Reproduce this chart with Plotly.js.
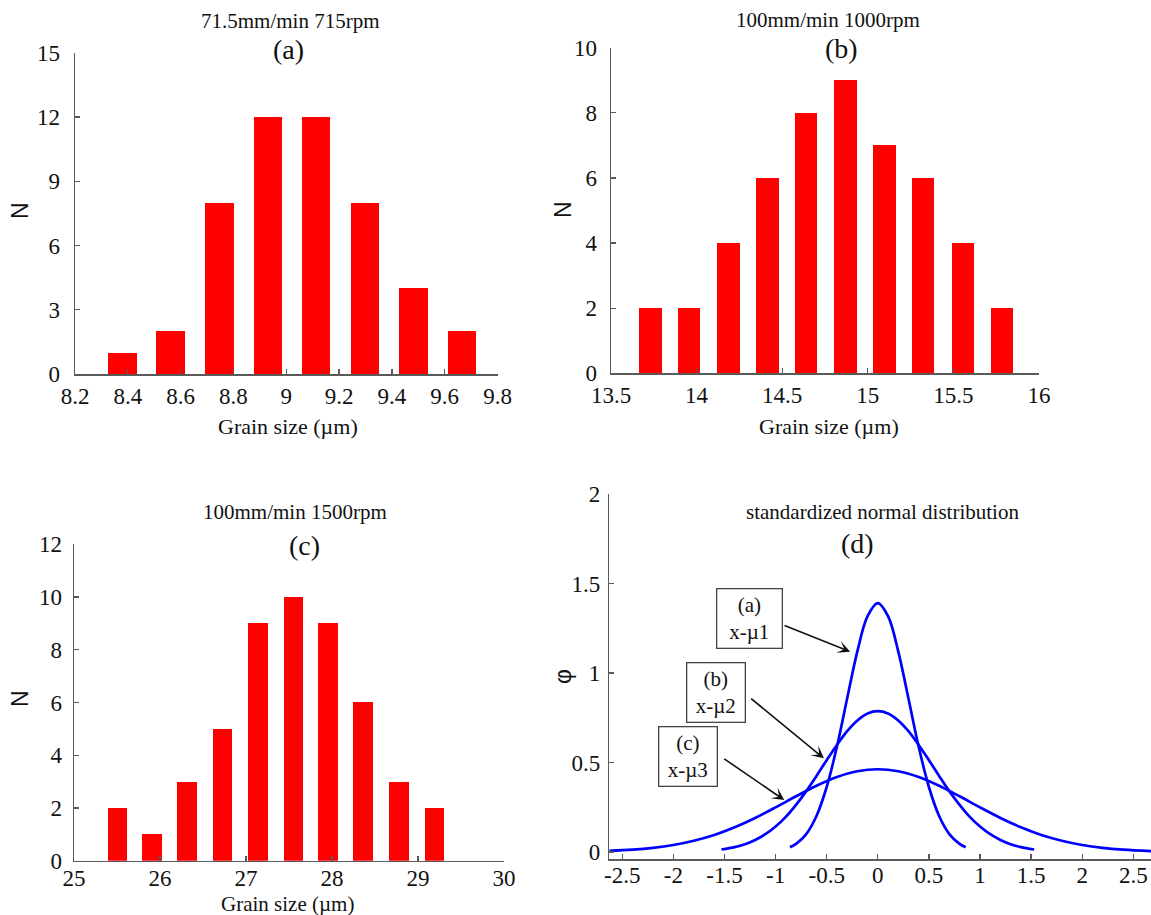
<!DOCTYPE html>
<html>
<head>
<meta charset="utf-8">
<script src="https://cdn.plot.ly/plotly-3.0.1.min.js"></script>
<style>
html,body{margin:0;padding:0;background:#fff;}
#chart{width:1151px;height:915px;}
</style>
</head>
<body>
<div id="chart"></div>
<script>
// ---- Panel (a): 71.5mm/min 715rpm ----
const aGrain = [8.380, 8.562, 8.747, 8.931, 9.114, 9.299, 9.482, 9.666];
const aCount = [1, 2, 8, 12, 12, 8, 4, 2];
const aXTicks = [8.2, 8.4, 8.6, 8.8, 9, 9.2, 9.4, 9.6, 9.8];
const aXText = ['8.2', '8.4', '8.6', '8.8', '9', '9.2', '9.4', '9.6', '9.8'];
const aYTicks = [0, 3, 6, 9, 12, 15];

// ---- Panel (b): 100mm/min 1000rpm ----
const bGrain = [13.731, 13.957, 14.187, 14.414, 14.641, 14.870, 15.097, 15.324, 15.554, 15.783];
const bCount = [2, 2, 4, 6, 8, 9, 7, 6, 4, 2];
const bXTicks = [13.5, 14, 14.5, 15, 15.5, 16];
const bXText = ['13.5', '14', '14.5', '15', '15.5', '16'];
const bYTicks = [0, 2, 4, 6, 8, 10];

// ---- Panel (c): 100mm/min 1500rpm ----
const cGrain = [25.504, 25.909, 26.317, 26.728, 27.137, 27.552, 27.956, 28.363, 28.778, 29.191];
const cCount = [2, 1, 3, 5, 9, 10, 9, 6, 3, 2];
const cXTicks = [25, 26, 27, 28, 29, 30];
const cXText = ['25', '26', '27', '28', '29', '30'];
const cYTicks = [0, 2, 4, 6, 8, 10, 12];

// ---- Panel (d): standardized normal distribution ----
const dCurveAx = [-0.86, -0.8, -0.7, -0.6, -0.5, -0.4, -0.3, -0.2, -0.1, 0, 0.1, 0.2, 0.3, 0.4, 0.5, 0.6, 0.7, 0.8, 0.86];
const dCurveAy = [0.026, 0.045, 0.100, 0.201, 0.363, 0.588, 0.857, 1.121, 1.317, 1.390, 1.317, 1.121, 0.857, 0.588, 0.363, 0.201, 0.100, 0.045, 0.026];
const dCurveBx = [-1.53, -1.4, -1.3, -1.2, -1.1, -1.0, -0.9, -0.8, -0.7, -0.6, -0.5, -0.4, -0.3, -0.2, -0.1, 0, 0.1, 0.2, 0.3, 0.4, 0.5, 0.6, 0.7, 0.8, 0.9, 1.0, 1.1, 1.2, 1.3, 1.4, 1.53];
const dCurveBy = [0.014, 0.027, 0.043, 0.067, 0.099, 0.142, 0.196, 0.263, 0.340, 0.425, 0.513, 0.598, 0.675, 0.735, 0.774, 0.787, 0.774, 0.735, 0.675, 0.598, 0.513, 0.425, 0.340, 0.263, 0.196, 0.142, 0.099, 0.067, 0.043, 0.027, 0.014];
const dCurveCx = [-2.64, -2.4, -2.2, -2.0, -1.8, -1.6, -1.4, -1.2, -1.0, -0.8, -0.6, -0.4, -0.2, 0, 0.2, 0.4, 0.6, 0.8, 1.0, 1.2, 1.4, 1.6, 1.8, 2.0, 2.2, 2.4, 2.68];
const dCurveCy = [0.006, 0.013, 0.023, 0.039, 0.063, 0.095, 0.138, 0.190, 0.249, 0.311, 0.370, 0.419, 0.451, 0.462, 0.451, 0.419, 0.370, 0.311, 0.249, 0.190, 0.138, 0.095, 0.063, 0.039, 0.023, 0.013, 0.005];
const dXTicks = [-2.5, -2, -1.5, -1, -0.5, 0, 0.5, 1, 1.5, 2, 2.5];
const dXText = ['-2.5', '-2', '-1.5', '-1', '-0.5', '0', '0.5', '1', '1.5', '2', '2.5'];
const dYTicks = [0, 0.5, 1, 1.5, 2];
const dYText = ['0', '0.5', '1', '1.5', '2'];

const W = 1151, H = 915;
const px = v => v / W;
const py = v => 1 - v / H;
const SERIF = 'Liberation Serif, Times New Roman, serif';
const SANS = 'Liberation Sans, Arial, sans-serif';
const RED = '#ff0000';
const BLUE = '#0000ff';

function axis(extra) {
  return Object.assign({
    showgrid: false, zeroline: false, showline: true,
    linecolor: '#5a5a5a', linewidth: 1.5,
    ticks: 'inside', ticklen: 5, tickwidth: 1.3, tickcolor: '#5a5a5a',
    tickfont: {family: SERIF, size: 23, color: '#111'},
    fixedrange: true, mirror: false
  }, extra);
}

const traces = [
  {type: 'bar', x: aGrain, y: aCount, width: 0.107, marker: {color: RED, line: {width: 0}}, xaxis: 'x', yaxis: 'y', hoverinfo: 'x+y'},
  {type: 'bar', x: bGrain, y: bCount, width: 0.13, marker: {color: RED, line: {width: 0}}, xaxis: 'x2', yaxis: 'y2', hoverinfo: 'x+y'},
  {type: 'bar', x: cGrain, y: cCount, width: 0.228, marker: {color: RED, line: {width: 0}}, xaxis: 'x3', yaxis: 'y3', hoverinfo: 'x+y'},
  {type: 'scatter', mode: 'lines', x: dCurveAx, y: dCurveAy, line: {color: BLUE, width: 2.7, shape: 'spline'}, xaxis: 'x4', yaxis: 'y4'},
  {type: 'scatter', mode: 'lines', x: dCurveBx, y: dCurveBy, line: {color: BLUE, width: 2.7, shape: 'spline'}, xaxis: 'x4', yaxis: 'y4'},
  {type: 'scatter', mode: 'lines', x: dCurveCx, y: dCurveCy, line: {color: BLUE, width: 2.7, shape: 'spline'}, xaxis: 'x4', yaxis: 'y4'}
];

function txt(x, y, text, size, extra) {
  return Object.assign({xref: 'paper', yref: 'paper', x: px(x), y: py(y), text: text, showarrow: false,
    xanchor: 'center', yanchor: 'middle', font: {family: SERIF, size: size, color: '#111'}}, extra || {});
}

const annotations = [
  // panel titles
  txt(290, 21, '71.5mm/min 715rpm', 21),
  txt(288, 50, '(a)', 28),
  txt(828, 20, '100mm/min 1000rpm', 21),
  txt(841, 48, '(b)', 28),
  txt(295, 512, '100mm/min 1500rpm', 21),
  txt(304, 545, '(c)', 28),
  txt(882, 512, 'standardized normal distribution', 21),
  txt(857, 543, '(d)', 28),
  // axis titles
  txt(288, 426, 'Grain size (µm)', 22),
  txt(829, 426, 'Grain size (µm)', 22),
  txt(287, 904, 'Grain size (µm)', 21),
  txt(20, 211, 'N', 23, {textangle: -90, font: {family: SANS, size: 23, color: '#111'}}),
  txt(563, 210, 'N', 23, {textangle: -90, font: {family: SANS, size: 23, color: '#111'}}),
  txt(20, 699, 'N', 23, {textangle: -90, font: {family: SANS, size: 23, color: '#111'}}),
  txt(563, 677, 'φ', 23, {textangle: -90, font: {family: SANS, size: 23, color: '#111'}}),
  // labelled boxes in (d)
  txt(749, 618, '(a)<br>x-µ1', 21, {bordercolor: '#444', borderwidth: 1.3, bgcolor: '#fff', width: 62, height: 56, borderpad: 1}),
  txt(716, 692, '(b)<br>x-µ2', 21, {bordercolor: '#444', borderwidth: 1.3, bgcolor: '#fff', width: 55, height: 56, borderpad: 1}),
  txt(688, 756, '(c)<br>x-µ3', 21, {bordercolor: '#444', borderwidth: 1.3, bgcolor: '#fff', width: 55, height: 56, borderpad: 1}),
  // arrows
  {xref: 'x4', yref: 'y4', axref: 'x4', ayref: 'y4', x: -0.270, y: 1.119, ax: -0.927, ay: 1.268, text: '', showarrow: true, arrowhead: 3, arrowsize: 1.3, arrowwidth: 1.6, arrowcolor: '#111', standoff: 0, startstandoff: 0},
  {xref: 'x4', yref: 'y4', axref: 'x4', ayref: 'y4', x: -0.527, y: 0.523, ax: -1.254, ay: 0.864, text: '', showarrow: true, arrowhead: 3, arrowsize: 1.3, arrowwidth: 1.6, arrowcolor: '#111', standoff: 0, startstandoff: 0},
  {xref: 'x4', yref: 'y4', axref: 'x4', ayref: 'y4', x: -0.915, y: 0.290, ax: -1.517, ay: 0.526, text: '', showarrow: true, arrowhead: 3, arrowsize: 1.3, arrowwidth: 1.6, arrowcolor: '#111', standoff: 0, startstandoff: 0}
];

const layout = {
  width: W, height: H,
  margin: {l: 0, r: 0, t: 0, b: 0},
  paper_bgcolor: '#fff', plot_bgcolor: '#fff',
  showlegend: false, bargap: 0,
  xaxis: axis({domain: [px(75), px(497.5)], range: [8.2, 9.8], tickvals: aXTicks, ticktext: aXText, anchor: 'y', ticklabelstandoff: 1}),
  yaxis: axis({domain: [py(374), py(52.7)], range: [0, 15], tickvals: aYTicks, anchor: 'x', ticklabelstandoff: 9}),
  xaxis2: axis({domain: [px(611), px(1039)], range: [13.5, 16], tickvals: bXTicks, ticktext: bXText, anchor: 'y2', ticklabelstandoff: 1}),
  yaxis2: axis({domain: [py(373.3), py(47.7)], range: [0, 10], tickvals: bYTicks, anchor: 'x2', ticklabelstandoff: 8}),
  xaxis3: axis({domain: [px(74), px(504)], range: [25, 30], tickvals: cXTicks, ticktext: cXText, anchor: 'y3', ticklabelstandoff: -4}),
  yaxis3: axis({domain: [py(860.7), py(544.3)], range: [0, 12], tickvals: cYTicks, anchor: 'x3', ticklabelstandoff: 6}),
  xaxis4: axis({domain: [px(609.4), 1], range: [-2.626, 2.673], tickvals: dXTicks, ticktext: dXText, anchor: 'y4', ticklabelstandoff: -5}),
  yaxis4: axis({domain: [py(859.3), py(494)], range: [-0.041, 2], tickvals: dYTicks, ticktext: dYText, anchor: 'x4', ticklabelstandoff: 3}),
  annotations: annotations
};

Plotly.newPlot('chart', traces, layout, {displayModeBar: false, staticPlot: true});
</script>
</body>
</html>
